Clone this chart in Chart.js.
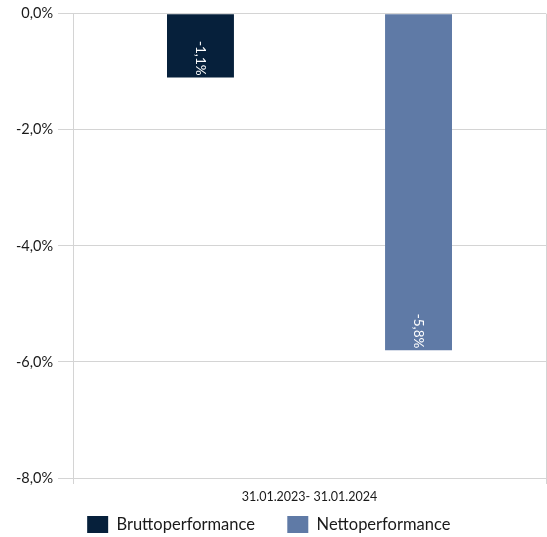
<!DOCTYPE html>
<html>
<head>
<meta charset="utf-8">
<script src="https://cdn.jsdelivr.net/npm/chart.js@4"></script>
<style>
  html, body { margin: 0; padding: 0; background: #fff; }
  #wrap { width: 547px; height: 537px; }
</style>
</head>
<body>
<div id="wrap"><canvas id="perfChart"></canvas></div>
<script>
// Zeitraum und Werte (in %)
const categories = ['31.01.2023- 31.01.2024'];
const seriesNames = ['Bruttoperformance', 'Nettoperformance'];
const bruttoValues = [-1.1];
const nettoValues = [-5.8];
const seriesColors = ['#06203b', '#5f7aa6'];
const yTicks = [0, -2, -4, -6, -8];

const fmt = v => v.toFixed(1).replace('.', ',') + '%';

// Werte vertikal im Balken, am Balkenende
const barLabels = {
    id: 'barLabels',
    afterDatasetsDraw(chart) {
        const ctx = chart.ctx;
        chart.data.datasets.forEach((ds, i) => {
            chart.getDatasetMeta(i).data.forEach((bar, j) => {
                ctx.save();
                ctx.translate(bar.x, bar.y - 2);
                ctx.rotate(Math.PI / 2);
                ctx.fillStyle = '#ffffff';
                ctx.font = '13.5px Lato';
                ctx.textAlign = 'right';
                ctx.textBaseline = 'middle';
                ctx.fillText(fmt(ds.data[j]), 0, 0);
                ctx.restore();
            });
        });
    }
};

// Legendenhöhe fest, damit die Zeichenfläche bis -8% reicht
const legendHeight = {
    id: 'legendHeight',
    beforeInit(chart) {
        const origFit = chart.legend.fit;
        chart.legend.fit = function () {
            origFit.bind(chart.legend)();
            this.height = 28;
        };
    }
};

new Chart(document.getElementById('perfChart'), {
    type: 'bar',
    data: {
        labels: categories,
        datasets: [
            { label: seriesNames[0], data: bruttoValues, backgroundColor: seriesColors[0] },
            { label: seriesNames[1], data: nettoValues, backgroundColor: seriesColors[1] }
        ]
    },
    options: {
        responsive: true,
        maintainAspectRatio: false,
        animation: false,
        categoryPercentage: 0.922,
        barPercentage: 0.307,
        layout: { padding: { top: 13, right: 1, left: 0, bottom: 0 } },
        plugins: {
            tooltip: { enabled: false },
            legend: {
                position: 'bottom',
                labels: {
                    color: '#1a1a1a',
                    font: { family: 'Lato', size: 16.5 },
                    boxWidth: 21,
                    boxHeight: 17,
                    padding: 7,
                    useBorderRadius: false,
                    generateLabels(chart) {
                        const items = Chart.defaults.plugins.legend.labels.generateLabels(chart);
                        items[0].text += '      ';
                        items[1].text += '  ';
                        return items;
                    }
                }
            }
        },
        scales: {
            x: {
                grid: { color: '#d4d4d4', tickLength: 6, offset: true },
                border: { color: '#d4d4d4' },
                ticks: { color: '#1a1a1a', font: { family: 'Lato', size: 12.5 }, padding: 5 }
            },
            y: {
                min: -8,
                max: 0,
                afterFit(axis) { axis.width = 73; },
                afterBuildTicks(axis) { axis.ticks = yTicks.map(v => ({ value: v })); },
                grid: { color: '#d4d4d4', tickLength: 15 },
                border: { color: '#d4d4d4' },
                ticks: {
                    color: '#1a1a1a',
                    font: { family: 'Lato', size: 14.5 },
                    padding: 5,
                    callback: v => fmt(v)
                }
            }
        }
    },
    plugins: [barLabels, legendHeight]
});
</script>
</body>
</html>
